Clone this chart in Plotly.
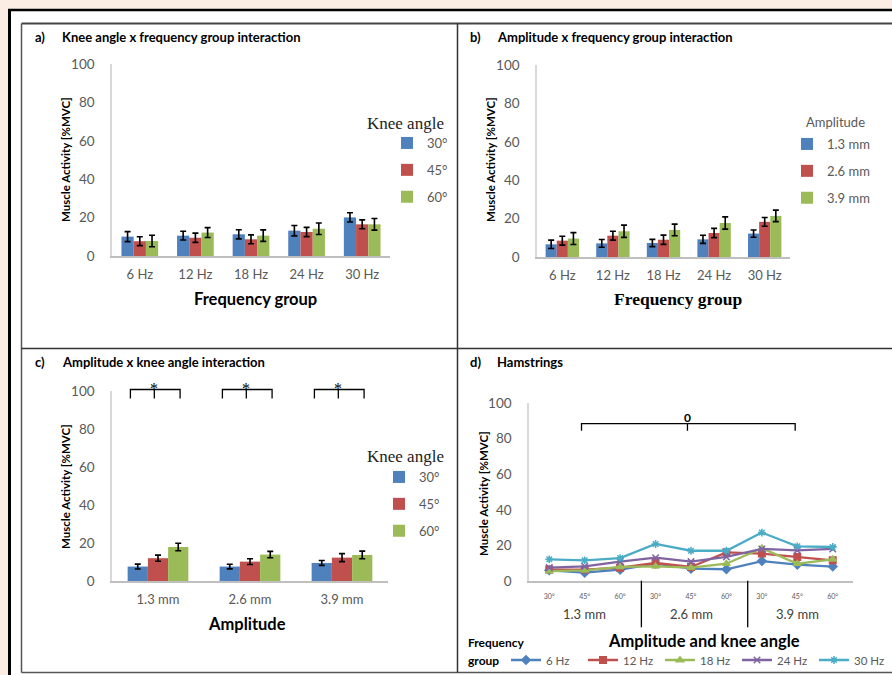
import plotly.graph_objects as go

W, H = 892, 675

def px(x):
    return x / W

def py(y):
    return 1 - y / H

# ---------------- data ----------------
freq_groups = ["6 Hz", "12 Hz", "18 Hz", "24 Hz", "30 Hz"]
knee_angles = ["30°", "45°", "60°"]
amplitudes = ["1.3 mm", "2.6 mm", "3.9 mm"]

# a) knee angle x frequency group
a_30 = [10.1, 10.6, 11.3, 13.2, 20.1]
a_45 = [7.7, 9.5, 8.7, 12.5, 16.5]
a_60 = [7.8, 12.2, 10.6, 14.2, 16.5]
a_30_err = [2.6, 2.3, 2.4, 2.7, 2.4]
a_45_err = [2.3, 2.4, 2.3, 2.4, 2.3]
a_60_err = [3.0, 2.6, 3.0, 3.0, 3.0]

# b) amplitude x frequency group
b_13 = [6.6, 7.1, 7.3, 9.2, 12.2]
b_26 = [8.5, 11.1, 9.0, 12.5, 18.3]
b_39 = [9.6, 13.4, 14.1, 17.7, 21.4]
b_13_err = [2.2, 2.0, 1.9, 2.1, 1.9]
b_26_err = [2.3, 2.3, 2.4, 2.4, 2.3]
b_39_err = [3.1, 3.2, 3.0, 3.2, 3.0]

# c) amplitude x knee angle
c_30 = [7.6, 7.6, 9.5]
c_45 = [12.0, 10.2, 12.3]
c_60 = [17.9, 13.9, 13.7]
c_30_err = [1.3, 1.2, 1.3]
c_45_err = [1.6, 1.5, 2.1]
c_60_err = [2.0, 1.7, 2.0]

# d) hamstrings (amplitude & knee angle combos)
d_categories = [f"{a} {k}" for a in amplitudes for k in knee_angles]
d_ticktext = knee_angles * 3
d_6hz = [6.0, 4.7, 6.4, 9.7, 6.9, 6.6, 11.2, 9.2, 8.1]
d_12hz = [6.4, 6.4, 7.5, 10.1, 7.9, 16.1, 15.4, 13.5, 11.6]
d_18hz = [5.6, 6.0, 7.9, 8.2, 7.5, 9.7, 18.4, 9.7, 12.2]
d_24hz = [7.5, 8.2, 10.9, 13.1, 10.9, 13.5, 18.0, 17.2, 18.0]
d_30hz = [12.2, 11.6, 12.9, 20.8, 17.0, 17.0, 27.2, 19.5, 19.1]

y_ticks = [0, 20, 40, 60, 80, 100]

# ---------------- style ----------------
BLUE, RED, GREEN = "#4F81BD", "#C0504D", "#9BBB59"
PURPLE, CYAN = "#8064A2", "#4BACC6"
TICK = "#595959"
SANS = "Lato, 'Open Sans', sans-serif"
SERIF = "'Liberation Serif', 'DejaVu Serif', serif"

fig = go.Figure()

def add_bars(xs, series, errs, names, colors, xa, ya, leg):
    for vals, err, name, col in zip(series, errs, names, colors):
        fig.add_trace(go.Bar(
            x=xs, y=vals, name=name, marker=dict(color=col, line=dict(width=0)),
            error_y=dict(type="data", array=err, color="black", thickness=1.6, width=3),
            xaxis=xa, yaxis=ya, legend=leg, legendgroup=leg + name,
        ))

add_bars(freq_groups, [a_30, a_45, a_60], [a_30_err, a_45_err, a_60_err],
         knee_angles, [BLUE, RED, GREEN], "x", "y", "legend")
add_bars(freq_groups, [b_13, b_26, b_39], [b_13_err, b_26_err, b_39_err],
         amplitudes, [BLUE, RED, GREEN], "x2", "y2", "legend2")
add_bars(amplitudes, [c_30, c_45, c_60], [c_30_err, c_45_err, c_60_err],
         knee_angles, [BLUE, RED, GREEN], "x3", "y3", "legend3")

line_series = [
    ("6 Hz", d_6hz, BLUE, "diamond"),
    ("12 Hz", d_12hz, RED, "square"),
    ("18 Hz", d_18hz, GREEN, "triangle-up"),
    ("24 Hz", d_24hz, PURPLE, "x-thin-open"),
    ("30 Hz", d_30hz, CYAN, "asterisk-open"),
]
for name, vals, col, sym in line_series:
    fig.add_trace(go.Scatter(
        x=d_categories, y=vals, name=name, mode="lines+markers",
        line=dict(color=col, width=2.3),
        marker=dict(symbol=sym, size=6.5, color=col, line=dict(color=col, width=1.5)),
        xaxis="x4", yaxis="y4", legend="legend4",
    ))

def xax(l, r, anchor, size=13):
    return dict(domain=[px(l), px(r)], anchor=anchor, type="category",
                showline=True, linecolor="#BFBFBF", linewidth=1.5, ticks="",
                showgrid=False, zeroline=False, fixedrange=True,
                tickfont=dict(family=SANS, size=size, color=TICK),
                ticklabelstandoff=6)

def yax(top, bottom, anchor):
    return dict(domain=[py(bottom), py(top)], anchor=anchor, range=[0, 100],
                tickvals=y_ticks, showline=True, linecolor="#D9D9D9", linewidth=1.5,
                ticks="", showgrid=False, zeroline=False, fixedrange=True,
                tickfont=dict(family=SANS, size=13.5, color=TICK),
                ticklabelstandoff=13)

x4 = xax(529, 853, "y4", size=7)
x4.update(tickvals=d_categories, ticktext=d_ticktext, ticklabelstandoff=8)

fig.update_layout(
    width=W, height=H, margin=dict(l=0, r=0, t=0, b=0, autoexpand=False),
    paper_bgcolor="#FCEDE4", plot_bgcolor="white",
    barmode="group", bargap=0.34, bargroupgap=0,
    font=dict(family=SANS, color="black"),
    xaxis=xax(112, 390, "y"), yaxis=yax(64, 256, "x"),
    xaxis2=xax(537, 790, "y2"), yaxis2=yax(65, 257, "x2"),
    xaxis3=xax(112, 388, "y3"), yaxis3=yax(391, 581, "x3"),
    xaxis4=x4, yaxis4=yax(403, 581, "x4"),
)

leg_common = dict(bgcolor="rgba(0,0,0,0)", borderwidth=0, traceorder="grouped",
                  tracegroupgap=7, font=dict(family=SANS, size=13, color=TICK),
                  xanchor="left", yanchor="top")
fig.update_layout(
    legend=dict(x=px(387), y=py(128), **leg_common),
    legend2=dict(x=px(787), y=py(129), **leg_common),
    legend3=dict(x=px(379), y=py(462), **leg_common),
    legend4=dict(orientation="h", x=px(506), y=py(660), xanchor="left", yanchor="middle",
                 entrywidth=32, entrywidthmode="pixels", bgcolor="rgba(0,0,0,0)",
                 font=dict(family=SANS, size=11.5, color=TICK)),
)

# ---------------- frame shapes ----------------
shapes = [
    dict(type="rect", xref="paper", yref="paper", x0=px(9), x1=1, y0=0, y1=py(10),
         fillcolor="white", line=dict(width=0), layer="below"),
    dict(type="line", xref="paper", yref="paper", x0=px(8), x1=1, y0=py(10), y1=py(10),
         line=dict(color="black", width=2.5)),
    dict(type="line", xref="paper", yref="paper", x0=px(9.5), x1=px(9.5), y0=0, y1=py(9),
         line=dict(color="black", width=3)),
    dict(type="line", xref="paper", yref="paper", x0=px(21.5), x1=1, y0=py(23.5), y1=py(23.5),
         line=dict(color="#444444", width=2)),
    dict(type="line", xref="paper", yref="paper", x0=px(21.5), x1=1, y0=py(672.5), y1=py(672.5),
         line=dict(color="#555555", width=1.5)),
    dict(type="line", xref="paper", yref="paper", x0=px(21.5), x1=px(21.5), y0=py(672.5), y1=py(23.5),
         line=dict(color="#555555", width=1.5)),
    dict(type="line", xref="paper", yref="paper", x0=px(457.5), x1=px(457.5), y0=py(672.5), y1=py(23.5),
         line=dict(color="#333333", width=1.5)),
    dict(type="line", xref="paper", yref="paper", x0=px(21.5), x1=1, y0=py(348.5), y1=py(348.5),
         line=dict(color="#333333", width=1.5)),
]

# significance brackets, panel c (x in category units, y in page pixels)
for i in range(len(amplitudes)):
    l, r, m = i - 0.30, i + 0.24, i - 0.04
    shapes.append(dict(type="path", xref="x3", yref="paper",
                       path=f"M {l},{py(398.5)} L {l},{py(389.5)} L {r},{py(389.5)} L {r},{py(398.5)}",
                       line=dict(color="black", width=1.3)))
    shapes.append(dict(type="line", xref="x3", yref="paper", x0=m, x1=m,
                       y0=py(398.5), y1=py(389.5), line=dict(color="black", width=1.3)))

# bracket panel d
shapes.append(dict(type="path", xref="x4", yref="y4",
                   path="M 0.91,84.4 L 0.91,88.4 L 6.94,88.4 L 6.94,84.4",
                   line=dict(color="black", width=1.3)))
shapes.append(dict(type="line", xref="x4", yref="y4", x0=3.9, x1=3.9, y0=84.4, y1=88.4,
                   line=dict(color="black", width=1.3)))

# group dividers panel d
for xv in (2.6, 5.6):
    shapes.append(dict(type="line", xref="x4", yref="paper", x0=xv, x1=xv,
                       y0=py(627.3), y1=py(580.7), line=dict(color="black", width=1.3)))

fig.update_layout(shapes=shapes)

# ---------------- text ----------------
ann = []

def txt(x, y, text, size=12, bold=False, family=SANS, color="black", xanchor="left",
        angle=0, xref="paper", yref="paper"):
    ann.append(dict(x=x, y=y, xref=xref, yref=yref, text=f"<b>{text}</b>" if bold else text,
                    showarrow=False, xanchor=xanchor, yanchor="middle", textangle=angle,
                    font=dict(family=family, size=size, color=color)))

# panel titles
TS = 13
txt(px(33), py(37), "a)", TS, True)
txt(px(60), py(37), "Knee angle x frequency group interaction", TS, True)
txt(px(468), py(37), "b)", TS, True)
txt(px(495), py(37), "Amplitude x frequency group interaction", TS, True)
txt(px(33), py(362), "c)", TS, True)
txt(px(60), py(362), "Amplitude x knee angle interaction", TS, True)
txt(px(468), py(362), "d)", TS, True)
txt(px(495), py(362), "Hamstrings", TS, True)

# y axis titles
ylab = "Muscle Activity [%MVC]"
txt(px(65), py(160), ylab, 11.5, True, xanchor="center", angle=-90)
txt(px(490), py(160), ylab, 11.5, True, xanchor="center", angle=-90)
txt(px(65), py(487), ylab, 11.5, True, xanchor="center", angle=-90)
txt(px(483), py(493), ylab, 11.5, True, xanchor="center", angle=-90)

# x axis titles
txt(px(255), py(299), "Frequency group", 16.5, True, xanchor="center")
txt(px(678), py(299), "Frequency group", 17.5, True, family=SERIF, xanchor="center")
txt(px(247), py(624), "Amplitude", 16.5, True, xanchor="center")
txt(px(704), py(641), "Amplitude and knee angle", 16.5, True, xanchor="center")

# legend titles
txt(px(365), py(123), "Knee angle", 17, family=SERIF, color="#222222")
txt(px(804), py(122), "Amplitude", 13, color=TICK)
txt(px(365), py(457), "Knee angle", 17, family=SERIF, color="#222222")
txt(px(466), py(642), "Frequency", 12, True)
txt(px(466), py(660), "group", 12, True)

# panel d amplitude group labels
for i, a in enumerate(amplitudes):
    txt(3 * i + 1, py(614), a, 13, xanchor="center", color="#404040", xref="x4")

# significance marks
for i in range(len(amplitudes)):
    txt(i - 0.04, py(388), "*", 16, family=SERIF, xanchor="center", color="#000000", xref="x3")
txt(3.9, 91.6, "0", 12, True, xanchor="center", xref="x4", yref="y4")

fig.update_layout(annotations=ann)

fig.write_html("out.html", config={"displayModeBar": False},
               post_script="document.body.style.margin='0';")
